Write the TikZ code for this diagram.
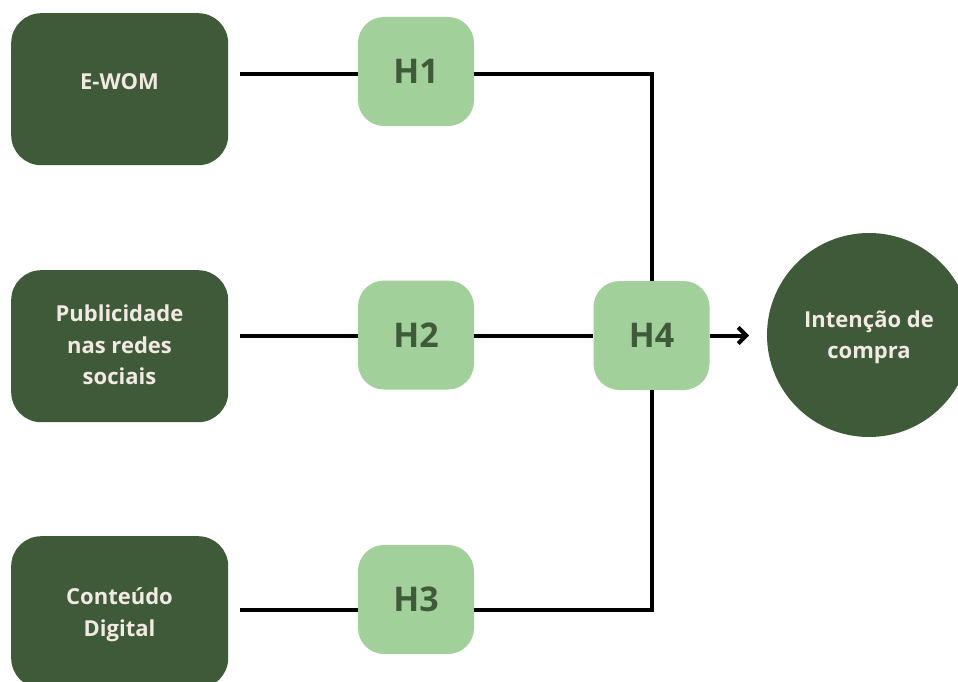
\documentclass[tikz,border=0pt]{standalone}
\usepackage{fontspec}
\setmainfont{Open Sans}[BoldFont={* Bold}]
\usetikzlibrary{arrows.meta}
\definecolor{darkg}{HTML}{3E5A38}
\definecolor{lightg}{HTML}{A1D09A}
\definecolor{cream}{HTML}{F2EAE2}
\begin{document}
\begin{tikzpicture}[x=1pt,y=-1pt,
  varbox/.style={fill=darkg,rounded corners=30pt,minimum width=217pt,minimum height=152pt,inner sep=0pt,anchor=north west},
  vartext/.style={text=cream,font=\bfseries\fontsize{22}{31.5}\selectfont,align=center},
  hbox/.style={fill=lightg,rounded corners=26pt,minimum width=116pt,minimum height=109pt,inner sep=0pt,text=darkg,font=\bfseries\fontsize{34}{40}\selectfont},
  conn/.style={line width=4pt,black}]
\useasboundingbox (0,0) rectangle (958,682);
\clip (0,0) rectangle (958,682);
% variable boxes
\node[varbox] (b1) at (11,13) {};
\node[varbox] (b2) at (11,270) {};
\node[varbox] (b3) at (11,536) {};
\node[vartext] (t1) at (119.5,82) {E-WOM};
\node[vartext] (t2) at (119.5,345) {Publicidade\\nas redes\\sociais};
\node[vartext] (t3) at (119.5,614.5) {Conteúdo\\Digital};
% hypothesis boxes
\node[hbox] (h1) at (416,71.5) {H1};
\node[hbox] (h2) at (416,335) {H2};
\node[hbox] (h3) at (416,599.5) {H3};
\node[hbox] (h4) at (651.5,335.5) {H4};
% outcome circle
\node[circle,fill=darkg,minimum size=204pt,inner sep=0pt] (out) at (869,335) {};
\node[vartext] (tout) at (869,337.5) {Intenção de\\compra};
% connectors
\coordinate (s1) at (240,74.5);
\coordinate (s2) at (240,336);
\coordinate (s3) at (240,610);
\coordinate (c1) at (652,74.5);
\coordinate (c3) at (652,610);
\coordinate (ae) at (749,335.5);
\draw[conn] (s1) -- (h1.west |- s1);
\draw[conn] (s2) -- (h2.west |- s2);
\draw[conn] (s3) -- (h3.west |- s3);
\draw[conn,line join=miter] (h1.east |- c1) -- (c1) -- (h4.north -| c1);
\draw[conn,line join=miter] (h3.east |- c3) -- (c3) -- (h4.south -| c3);
\draw[conn] (h2.east |- s2) -- (h4.west |- s2);
\draw[conn,-{Straight Barb[length=8pt,width=16pt,line width=4pt]}] (h4.east) -- (ae);
\end{tikzpicture}
\end{document}
